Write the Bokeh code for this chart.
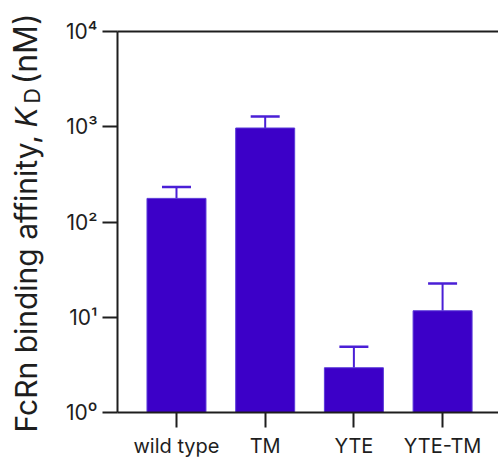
import math
from bokeh.plotting import figure
from bokeh.layouts import row
from bokeh.models import Range1d, FixedTicker, LinearAxis, Whisker, TeeHead, ColumnDataSource
from bokeh.core.properties import value
from bokeh.embed import file_html
from bokeh.resources import INLINE

categories = ["wild type", "TM", "YTE", "YTE-TM"]
kd_values = [177, 970, 2.95, 11.7]
kd_upper = [233, 1280, 4.9, 22.6]
y_ticks = [1, 10, 100, 1000, 10000]
y_tick_labels = ["10\u2070", "10\u00b9", "10\u00b2", "10\u00b3", "10\u2074"]

FONT = "Inter"
BAR = "#3c00c8"
ERR = "#4a1fd6"
AX = "#1e1e1e"

TW = 45
W, H = 498 - TW, 460
FL, FR, FT, FB = 117 - TW, 0, 31, 45
unit_px = 88.7
x0 = -0.665
x1 = x0 + (W - FL - FR) / unit_px

p = figure(width=W, height=H, y_axis_type="log", output_backend="svg",
           toolbar_location=None, x_range=Range1d(x0, x1), y_range=Range1d(1, 1e4),
           min_border_left=FL, min_border_right=FR, min_border_top=FT, min_border_bottom=FB)
p.outline_line_color = None
p.grid.visible = False
p.frame_align = False

xs = list(range(len(categories)))
src = ColumnDataSource(dict(x=xs, top=kd_values, upper=kd_upper, cat=categories))
p.vbar(x="x", top="top", bottom=1, width=0.665, source=src,
       fill_color=BAR, line_color="#5b3ad8", line_width=1)
wh = Whisker(base="x", lower="top", upper="upper", source=src, dimension="height",
             line_color=ERR, line_width=2,
             upper_head=TeeHead(size=29, line_color=ERR, line_width=2.5), lower_head=None)
p.add_layout(wh)

ya = p.yaxis[0]
ya.ticker = FixedTicker(ticks=y_ticks)
ya.major_label_overrides = {t: l for t, l in zip(y_ticks, y_tick_labels)}
ya.minor_tick_line_color = None
ya.major_tick_in = 0
ya.major_tick_out = 15
ya.major_tick_line_width = 2
ya.major_tick_line_color = AX
ya.axis_line_width = 2
ya.axis_line_color = AX
ya.major_label_text_font = FONT
ya.major_label_text_font_size = "21px"
ya.major_label_text_color = AX
ya.major_label_standoff = 5

xa = p.xaxis[0]
xa.ticker = FixedTicker(ticks=xs)
xa.major_label_overrides = {i: c for i, c in zip(xs, categories)}
xa.minor_tick_line_color = None
xa.major_tick_in = 0
xa.major_tick_out = 15
xa.major_tick_line_width = 2
xa.major_tick_line_color = AX
xa.axis_line_width = 2
xa.axis_line_color = AX
xa.major_label_text_font = FONT
xa.major_label_text_font_size = "20px"
xa.major_label_text_color = AX
xa.major_label_standoff = 6

top = LinearAxis(ticker=FixedTicker(ticks=[]), axis_line_width=2, axis_line_color=AX,
                 major_tick_line_color=None, minor_tick_line_color=None,
                 major_label_text_font_size="0px")
p.add_layout(top, "above")

# title strip: frame fills the strip; units are pixels, y measured from the bottom
t = figure(width=TW, height=H, output_backend="svg", toolbar_location=None,
           x_range=Range1d(0, TW), y_range=Range1d(0, H),
           min_border_left=0, min_border_right=0, min_border_top=0, min_border_bottom=0,
           x_axis_location=None, y_axis_location=None)
t.outline_line_color = None
t.grid.visible = False
t.frame_align = False

ang = math.pi / 2
bx = 25
t.text(x=[bx], y=[H - 432], text=["FcRn binding affinity, "], angle=ang,
       text_font=value(FONT), text_font_size="30px", text_color=AX,
       text_align="left", text_baseline="middle")
t.text(x=[bx], y=[H - 127], text=["K"], angle=ang,
       text_font=value(FONT), text_font_size="30px", text_font_style="italic", text_color=AX,
       text_align="left", text_baseline="middle")
t.text(x=[bx + 7], y=[H - 103], text=["D"], angle=ang,
       text_font=value(FONT), text_font_size="21px", text_color=AX,
       text_align="left", text_baseline="middle")
t.text(x=[bx], y=[H - 84], text=[" (nM)"], angle=ang,
       text_font=value(FONT), text_font_size="32px", text_color=AX,
       text_align="left", text_baseline="middle")

layout = row(t, p, spacing=0)
open("out.html", "w").write(file_html(layout, INLINE))
